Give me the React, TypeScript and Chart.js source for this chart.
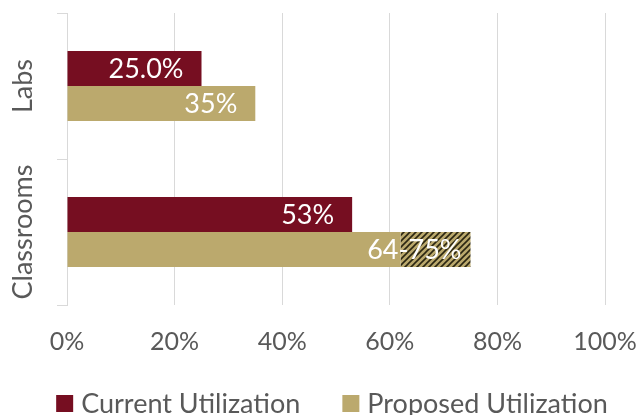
import React, { useEffect, useRef } from "react";
import { Chart, registerables } from "chart.js";

Chart.register(...registerables);

const categories = ["Labs", "Classrooms"];
const currentValues = [25, 53];
const proposedValues = [35, 62];
const proposedRangeExtra = [0, 13];
const currentLabels = ["25.0%", "53%"];
const proposedLabels = ["35%", "64-75%"];
const legendNames = ["Current Utilization", "Proposed Utilization"];

const GARNET = "#760E21";
const GOLD = "#BBA96D";
const TEXT = "#595959";
const GRID = "#D9D9D9";
const FONT = "Lato";

function makeHatch(): CanvasPattern | string {
  const c = document.createElement("canvas");
  c.width = 6;
  c.height = 6;
  const g = c.getContext("2d");
  if (!g) return GOLD;
  g.fillStyle = GOLD;
  g.fillRect(0, 0, 6, 6);
  g.strokeStyle = "#2B2612";
  g.lineWidth = 1.6;
  g.beginPath();
  g.moveTo(0, 6);
  g.lineTo(6, 0);
  g.moveTo(-3, 3);
  g.lineTo(3, -3);
  g.moveTo(3, 9);
  g.lineTo(9, 3);
  g.stroke();
  const p = g.createPattern(c, "repeat");
  return p || GOLD;
}

const labelPlugin = {
  id: "barLabels",
  afterDatasetsDraw(chart: any) {
    const ctx = chart.ctx;
    ctx.save();
    ctx.fillStyle = "#FFFFFF";
    ctx.font = `27px ${FONT}`;
    ctx.textAlign = "right";
    ctx.textBaseline = "middle";
    const m0 = chart.getDatasetMeta(0);
    const m1 = chart.getDatasetMeta(1);
    const m2 = chart.getDatasetMeta(2);
    categories.forEach((_, i) => {
      const e0 = m0.data[i];
      if (e0) ctx.fillText(currentLabels[i], e0.x - 18, e0.y + 1);
      const e1 = m1.data[i];
      const e2 = m2.data[i];
      if (e1) {
        if (proposedRangeExtra[i] > 0 && e2) {
          ctx.fillText(proposedLabels[i], e2.x - 9, e1.y + 1);
        } else {
          ctx.fillText(proposedLabels[i], e1.x - 18, e1.y + 1);
        }
      }
    });
    // category labels, rotated
    const yScale = chart.scales.y;
    ctx.fillStyle = TEXT;
    ctx.font = `27px ${FONT}`;
    ctx.textAlign = "center";
    categories.forEach((c, i) => {
      const y = yScale.getPixelForValue(i);
      ctx.save();
      ctx.translate(chart.chartArea.left - 44, y);
      ctx.rotate(-Math.PI / 2);
      ctx.fillText(c, 0, 0);
      ctx.restore();
    });
    // legend
    const colors = [GARNET, GOLD];
    ctx.font = `27px ${FONT}`;
    ctx.textAlign = "left";
    ctx.textBaseline = "alphabetic";
    const box = 17;
    const gap = 8;
    const itemGap = 42;
    const widths = legendNames.map((n) => ctx.measureText(n).width);
    const total =
      widths.reduce((a: number, b: number) => a + b, 0) +
      legendNames.length * (box + gap) +
      itemGap * (legendNames.length - 1);
    const center = (chart.chartArea.left + chart.chartArea.right) / 2 - 4;
    let x = center - total / 2;
    const boxTop = 395;
    legendNames.forEach((n, i) => {
      ctx.fillStyle = colors[i];
      ctx.fillRect(x, boxTop, box, box);
      x += box + gap;
      ctx.fillStyle = TEXT;
      ctx.fillText(n, x, 413);
      x += widths[i] + itemGap;
    });
    ctx.restore();
  },
};

export default function App() {
  const ref = useRef<HTMLCanvasElement | null>(null);
  useEffect(() => {
    if (!ref.current) return;
    const hatch = makeHatch();
    const chart = new Chart(ref.current, {
      type: "bar",
      data: {
        labels: categories,
        datasets: [
          {
            label: legendNames[0],
            data: currentValues,
            backgroundColor: GARNET,
            stack: "a",
            categoryPercentage: 0.48,
            barPercentage: 1,
          },
          {
            label: legendNames[1],
            data: proposedValues,
            backgroundColor: GOLD,
            stack: "b",
            categoryPercentage: 0.48,
            barPercentage: 1,
          },
          {
            label: "range",
            data: proposedRangeExtra,
            backgroundColor: hatch as any,
            stack: "b",
            categoryPercentage: 0.48,
            barPercentage: 1,
          },
        ],
      },
      options: {
        indexAxis: "y",
        responsive: false,
        animation: false,
        layout: { padding: { left: 57, right: 34, top: 13, bottom: 56 } },
        scales: {
          x: {
            stacked: true,
            min: 0,
            max: 100,
            ticks: {
              stepSize: 20,
              maxRotation: 0,
              minRotation: 0,
              callback: (v: any) => `${v}%`,
              color: TEXT,
              font: { family: FONT, size: 25 },
              padding: 22,
            },
            afterFit: (s: any) => {
              s.paddingLeft = 0;
              s.paddingRight = 0;
              s.height = 54;
            },
            grid: { color: GRID, lineWidth: 1, drawTicks: false },
            border: { display: false },
          },
          y: {
            stacked: true,
            ticks: { display: false },
            afterFit: (s: any) => {
              s.width = 10;
              s.paddingTop = 0;
              s.paddingBottom = 0;
            },
            grid: {
              offset: true,
              drawOnChartArea: false,
              drawTicks: true,
              tickLength: 10,
              color: GRID,
            },
            border: { display: true, color: GRID, width: 1 },
          },
        },
        plugins: {
          legend: { display: false },
          tooltip: { enabled: false },
        },
      },
      plugins: [labelPlugin],
    });
    return () => chart.destroy();
  }, []);
  return (
    <div style={{ position: "fixed", left: 0, top: 0, width: 639, height: 415 }}>
      <canvas ref={ref} width={639} height={415} />
    </div>
  );
}
